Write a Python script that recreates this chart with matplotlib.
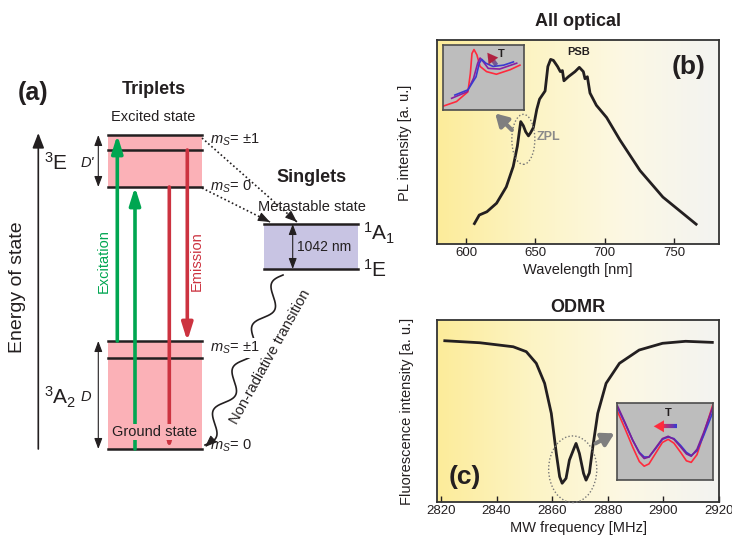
import numpy as np
import matplotlib
matplotlib.use("Agg")
import matplotlib.pyplot as plt
from matplotlib.patches import Rectangle, Ellipse
from matplotlib.colors import LinearSegmentedColormap
from matplotlib.collections import LineCollection

plt.rcParams['font.family'] = ['Liberation Sans', 'DejaVu Sans']
plt.rcParams['mathtext.fontset'] = 'custom'
plt.rcParams['mathtext.rm'] = 'Liberation Sans'
plt.rcParams['mathtext.it'] = 'Liberation Sans:italic'
plt.rcParams['mathtext.bf'] = 'Liberation Sans:bold'

# ---------------- data ----------------
# (b) PL spectrum
wavelength = [606, 609.5, 615, 622, 629, 634, 637, 639.4, 641.3, 643, 645, 646.5, 648.5,
              651, 653, 657, 659, 661, 663, 664.5, 666, 668, 669.5, 670.6, 673.8, 678.6,
              681.7, 684.6, 685.8, 687.5, 689.4, 694, 701.4, 711, 725.5, 742, 766]
pl_intensity = [0.10, 0.142, 0.158, 0.20, 0.28, 0.38, 0.48, 0.60, 0.58, 0.55, 0.53, 0.545, 0.57,
                0.66, 0.71, 0.75, 0.87, 0.905, 0.90, 0.885, 0.87, 0.845, 0.85, 0.80, 0.82, 0.845,
                0.866, 0.845, 0.81, 0.82, 0.74, 0.68, 0.62, 0.51, 0.36, 0.23, 0.097]
wl_ticks = [600, 650, 700, 750]

# (b) inset (fractions of inset box)
ins_b_red_x = [0.007, 0.17, 0.31, 0.34, 0.36, 0.385, 0.42, 0.46, 0.54, 0.66, 0.83, 0.95]
ins_b_red_y = [0.06, 0.13, 0.28, 0.56, 0.87, 0.93, 0.85, 0.67, 0.59, 0.55, 0.62, 0.69]
ins_b_pur_x = [0.11, 0.30, 0.38, 0.43, 0.46, 0.50, 0.56, 0.70, 0.91]
ins_b_pur_y = [0.18, 0.28, 0.49, 0.72, 0.80, 0.74, 0.64, 0.63, 0.72]
ins_b_blu_x = [0.15, 0.31, 0.41, 0.45, 0.48, 0.53, 0.62, 0.75, 0.87]
ins_b_blu_y = [0.23, 0.31, 0.51, 0.72, 0.78, 0.72, 0.67, 0.69, 0.74]

# (c) ODMR
mw_freq = [2821.4, 2834, 2846, 2850.7, 2854.3, 2857.3, 2859.7, 2861.5, 2862.7, 2863.6, 2865,
           2866.2, 2868, 2868.6, 2869.8, 2871.3, 2872.2, 2873.4, 2874.6, 2876.4, 2879.4,
           2884.2, 2891.3, 2899.7, 2908, 2917.6]
fluo = [0.886, 0.875, 0.853, 0.826, 0.762, 0.652, 0.487, 0.267, 0.139, 0.103, 0.13,
        0.23, 0.30, 0.322, 0.267, 0.157, 0.12, 0.16, 0.30, 0.487, 0.652,
        0.762, 0.835, 0.872, 0.883, 0.877]
mw_ticks = [2820, 2840, 2860, 2880, 2900, 2920]

# (c) inset
ins_c_x = [0.0, 0.08, 0.16, 0.23, 0.28, 0.33, 0.40, 0.47, 0.53, 0.59, 0.66, 0.72, 0.77, 0.83, 0.90, 1.0]
ins_c_pur = [0.97, 0.75, 0.52, 0.35, 0.28, 0.30, 0.42, 0.54, 0.57, 0.53, 0.43, 0.34, 0.31, 0.40, 0.62, 0.97]
ins_c_blu = [0.95, 0.74, 0.52, 0.36, 0.30, 0.30, 0.41, 0.53, 0.56, 0.54, 0.45, 0.36, 0.32, 0.38, 0.58, 0.90]
ins_c_red = [0.90, 0.67, 0.43, 0.24, 0.18, 0.21, 0.35, 0.49, 0.53, 0.48, 0.36, 0.25, 0.23, 0.33, 0.60, 1.00]

# ---------------- colours ----------------
dark = '#231f20'
green = '#00a651'
red = '#cc3340'
pink = '#fbb1b7'
lav = '#c8c4e3'
bg_cmap = LinearSegmentedColormap.from_list('bg', ['#fcec9a', '#fdf4c4', '#fcf8e4', '#f3f3f1'])

fig = plt.figure(figsize=(7.32, 5.36), dpi=100)

# ================= panel (a): energy diagram in pixel coords =================
ax0 = fig.add_axes([0, 0, 1, 1])
ax0.set_xlim(0, 732)
ax0.set_ylim(536, 0)
ax0.axis('off')


def arrow(x0, y0, x1, y1, color, lw, ms=15, hl=0.7, hw=0.22, both=False, z=3):
    style = '<|-|>' if both else '-|>'
    ax0.annotate('', xy=(x1, y1), xytext=(x0, y0),
                 arrowprops=dict(arrowstyle=f'{style},head_length={hl},head_width={hw}',
                                 color=color, lw=lw, mutation_scale=ms,
                                 shrinkA=0, shrinkB=0), zorder=z)


# boxes
ax0.add_patch(Rectangle((108, 135), 94, 52, facecolor=pink, edgecolor='none', zorder=1))
ax0.add_patch(Rectangle((108, 341), 94, 108, facecolor=pink, edgecolor='none', zorder=1))
ax0.add_patch(Rectangle((264, 224), 94, 45, facecolor=lav, edgecolor='none', zorder=1))
for yl in [135, 150, 187, 341, 358, 449]:
    ax0.plot([108, 202], [yl, yl], color=dark, lw=1.8, zorder=2)
for yl in [224, 269]:
    ax0.plot([264, 358], [yl, yl], color=dark, lw=1.8, zorder=2)

# energy axis
arrow(38.3, 449, 38.3, 133, dark, 1.2, ms=10, hl=0.9, hw=0.35)
ax0.text(18, 287, 'Energy of state', rotation=90, ha='center', va='center', fontsize=14, color=dark)

# D', D, 1042 nm arrows
arrow(98.3, 135, 98.3, 187, dark, 0.8, ms=8, hl=0.8, hw=0.3, both=True)
arrow(98.3, 341, 98.3, 449, dark, 0.8, ms=8, hl=0.8, hw=0.3, both=True)
arrow(292.7, 224, 292.7, 269, dark, 0.8, ms=8, hl=0.8, hw=0.3, both=True)

# excitation / emission
arrow(117.3, 341, 117.3, 135, green, 2.6)
arrow(135, 449, 135, 187, green, 2.6)
arrow(187.3, 150, 187.3, 341, red, 2.6)
arrow(169.3, 187, 169.3, 449, red, 2.6)
ax0.text(104, 261, 'Excitation', rotation=90, ha='center', va='center', fontsize=10.5, color=green)
ax0.text(197, 261, 'Emission', rotation=90, ha='center', va='center', fontsize=10.5, color=red)
ax0.text(155, 432, 'Ground state', ha='center', va='center', fontsize=10.5, color=dark, zorder=5,
         bbox=dict(boxstyle='square,pad=0.05', facecolor=pink, edgecolor='none'))

# labels
ax0.text(18, 93, '(a)', ha='left', va='center', fontsize=18, fontweight='bold', color=dark)
ax0.text(153.5, 90, 'Triplets', ha='center', va='center', fontsize=13, fontweight='bold', color=dark)
ax0.text(153, 117, 'Excited state', ha='center', va='center', fontsize=10.5, color=dark)
ax0.text(312, 177, 'Singlets', ha='center', va='center', fontsize=13, fontweight='bold', color=dark)
ax0.text(312, 207, 'Metastable state', ha='center', va='center', fontsize=10.5, color=dark)
ax0.text(324, 247, '1042 nm', ha='center', va='center', fontsize=10, color=dark)
ax0.text(44, 163, r'$^3$E', ha='left', va='center', fontsize=15, color=dark)
ax0.text(44, 397, r'$^3$A$_2$', ha='left', va='center', fontsize=15, color=dark)
ax0.text(363, 233, r'$^1$A$_1$', ha='left', va='center', fontsize=15, color=dark)
ax0.text(363, 270, r'$^1$E', ha='left', va='center', fontsize=15, color=dark)
ax0.text(87, 163, "D'", ha='center', va='center', fontsize=10.5, style='italic', color=dark)
ax0.text(86, 397, 'D', ha='center', va='center', fontsize=10.5, style='italic', color=dark)
ax0.text(210, 140, r'$m_S$= ±1', ha='left', va='center', fontsize=10.5, color=dark)
ax0.text(210, 187, r'$m_S$= 0', ha='left', va='center', fontsize=10.5, color=dark)
ax0.text(210, 348, r'$m_S$= ±1', ha='left', va='center', fontsize=10.5, color=dark, zorder=5,
         bbox=dict(boxstyle='square,pad=0.15', facecolor='white', edgecolor='none'))
ax0.text(210, 446, r'$m_S$= 0', ha='left', va='center', fontsize=10.5, color=dark)
ax0.text(270, 357, 'Non-radiative transition', rotation=61, rotation_mode='anchor',
         ha='center', va='center', fontsize=10.5, color=dark)

# dotted intersystem crossing arrows
for (xa, ya, xb, yb) in [(202, 138, 297, 222), (202, 188, 270, 222)]:
    ax0.plot([xa, xb], [ya, yb], color=dark, lw=1.2, ls=(0, (1, 1.5)), zorder=3)
    d = np.array([xb - xa, yb - ya]) / np.hypot(xb - xa, yb - ya)
    arrow(xb - 6 * d[0], yb - 6 * d[1], xb, yb, dark, 0.8, ms=8, hl=0.9, hw=0.35)

# wavy non-radiative decay
p0 = np.array([283.0, 275.0])
p1 = np.array([205.0, 445.0])
t = np.linspace(0, 1, 300)
v = p1 - p0
perp = np.array([-v[1], v[0]]) / np.hypot(*v)
wave = 7 * np.sin(2 * np.pi * 4.0 * t)
sx = p0[0] + t * v[0] + wave * perp[0]
sy = p0[1] + t * v[1] + wave * perp[1]
ax0.plot(sx, sy, color=dark, lw=1.2, zorder=3)
arrow(sx[-6], sy[-6], sx[-1], sy[-1] + 2, dark, 0.8, ms=8, hl=0.9, hw=0.35)


def gradient_arrow(ax, x0, y0, x1, y1, c0, c1, lw=3.5):
    n = 20
    xs = np.linspace(x0, x0 + 0.7 * (x1 - x0), n + 1)
    ys = np.linspace(y0, y0 + 0.7 * (y1 - y0), n + 1)
    segs = [[(xs[i], ys[i]), (xs[i + 1], ys[i + 1])] for i in range(n)]
    cm = LinearSegmentedColormap.from_list('g', [c0, c1])
    lc = LineCollection(segs, colors=[cm(i / n) for i in range(n)], linewidths=lw, zorder=4)
    ax.add_collection(lc)
    ax.annotate('', xy=(x1, y1), xytext=(xs[-3], ys[-3]),
                arrowprops=dict(arrowstyle='-|>,head_length=0.6,head_width=0.35', color=c1,
                                lw=0.1, mutation_scale=12, shrinkA=0, shrinkB=0), zorder=5)


def style_axes(ax, xlim, xticks):
    ax.set_xlim(*xlim)
    ax.set_ylim(0, 1)
    ax.imshow(np.linspace(0, 1, 256)[None, :], extent=[xlim[0], xlim[1], 0, 1],
              aspect='auto', cmap=bg_cmap, zorder=0)
    ax.set_xticks(xticks)
    ax.set_yticks([])
    ax.tick_params(axis='x', direction='in', length=4, width=1, labelsize=9.5, colors=dark, pad=2.5)
    for s in ax.spines.values():
        s.set_color('#333333')
        s.set_linewidth(1.3)


# ================= panel (b) =================
axb = fig.add_axes([437 / 732, 1 - 244 / 536, 282 / 732, 204 / 536])
style_axes(axb, (579, 782.5), wl_ticks)
axb.plot(wavelength, pl_intensity, color=dark, lw=2, zorder=3)
axb.add_patch(Ellipse((641.3, 0.513), 16.6, 0.245, fill=False, edgecolor='#777777',
                      ls=(0, (1, 1.5)), lw=1, zorder=3))
axb.text(681, 0.943, 'PSB', ha='center', va='center', fontsize=8, fontweight='bold', color=dark)
axb.text(659.3, 0.526, 'ZPL', ha='center', va='center', fontsize=9, fontweight='bold', color='#8a8a8a')
axb.text(760.8, 0.869, '(b)', ha='center', va='center', fontsize=19, fontweight='bold', color=dark)
axb.annotate('', xy=(621, 0.64), xytext=(633, 0.559),
             arrowprops=dict(arrowstyle='-|>,head_length=0.6,head_width=0.35', color='#7f7f7f',
                             lw=3, mutation_scale=12, shrinkA=0, shrinkB=0), zorder=4)
fig.text(578 / 732, 1 - 21 / 536, 'All optical', ha='center', va='center', fontsize=13,
         fontweight='bold', color=dark)
fig.text(578 / 732, 1 - 270 / 536, 'Wavelength [nm]', ha='center', va='center', fontsize=10.5, color=dark)
fig.text(405 / 732, 1 - 143 / 536, 'PL intensity [a. u.]', rotation=90, ha='center', va='center',
         fontsize=10.5, color=dark)

insb = fig.add_axes([442.7 / 732, 1 - 110 / 536, 81.3 / 732, 65 / 536])
insb.set_facecolor('#bdbdbd')
insb.set_xlim(0, 1)
insb.set_ylim(0, 1)
insb.set_xticks([])
insb.set_yticks([])
for s in insb.spines.values():
    s.set_color('#4d4d4d')
    s.set_linewidth(1.2)
insb.plot(ins_b_red_x, ins_b_red_y, color='#ff2a3c', lw=1.2)
insb.plot(ins_b_pur_x, ins_b_pur_y, color='#8a1fa0', lw=1.2)
insb.plot(ins_b_blu_x, ins_b_blu_y, color='#3a3ad0', lw=1.2)
gradient_arrow(insb, 0.66, 0.69, 0.55, 0.88, '#4a3a9a', '#b02040', lw=3)
insb.text(0.72, 0.86, 'T', ha='center', va='center', fontsize=8, fontweight='bold', color=dark)

# ================= panel (c) =================
axc = fig.add_axes([437 / 732, 1 - 502 / 536, 282 / 732, 182 / 536])
style_axes(axc, (2818.6, 2920), mw_ticks)
axc.plot(mw_freq, fluo, color=dark, lw=2, zorder=3)
axc.add_patch(Ellipse((2867.4, 0.18), 17.3, 0.366, fill=False, edgecolor='#777777',
                      ls=(0, (1, 1.5)), lw=1, zorder=3, clip_on=False))
axc.text(2828.6, 0.139, '(c)', ha='center', va='center', fontsize=19, fontweight='bold', color=dark)
axc.annotate('', xy=(2882.4, 0.377), xytext=(2875.6, 0.322),
             arrowprops=dict(arrowstyle='-|>,head_length=0.6,head_width=0.35', color='#7f7f7f',
                             lw=3, mutation_scale=12, shrinkA=0, shrinkB=0), zorder=4)
fig.text(578 / 732, 1 - 308 / 536, 'ODMR', ha='center', va='center', fontsize=13,
         fontweight='bold', color=dark)
fig.text(578 / 732, 1 - 528 / 536, 'MW frequency [MHz]', ha='center', va='center', fontsize=10.5, color=dark)
fig.text(406.7 / 732, 1 - 411 / 536, 'Fluorescence intensity [a. u.]', rotation=90, ha='center',
         va='center', fontsize=10.5, color=dark)

insc = fig.add_axes([617.3 / 732, 1 - 480 / 536, 96 / 732, 76.7 / 536])
insc.set_facecolor('#bdbdbd')
insc.set_xlim(0, 1)
insc.set_ylim(0, 1)
insc.set_xticks([])
insc.set_yticks([])
for s in insc.spines.values():
    s.set_color('#4d4d4d')
    s.set_linewidth(1.2)
insc.plot(ins_c_x, ins_c_red, color='#ff2a3c', lw=1.2)
insc.plot(ins_c_x, ins_c_blu, color='#3a3ad0', lw=1.2)
insc.plot(ins_c_x, ins_c_pur, color='#7a1f9a', lw=1.2)
gradient_arrow(insc, 0.62, 0.70, 0.38, 0.70, '#3a3ad0', '#ff2a3c', lw=3)
insc.text(0.53, 0.87, 'T', ha='center', va='center', fontsize=8, fontweight='bold', color=dark)

fig.savefig('out.png', dpi=100)
